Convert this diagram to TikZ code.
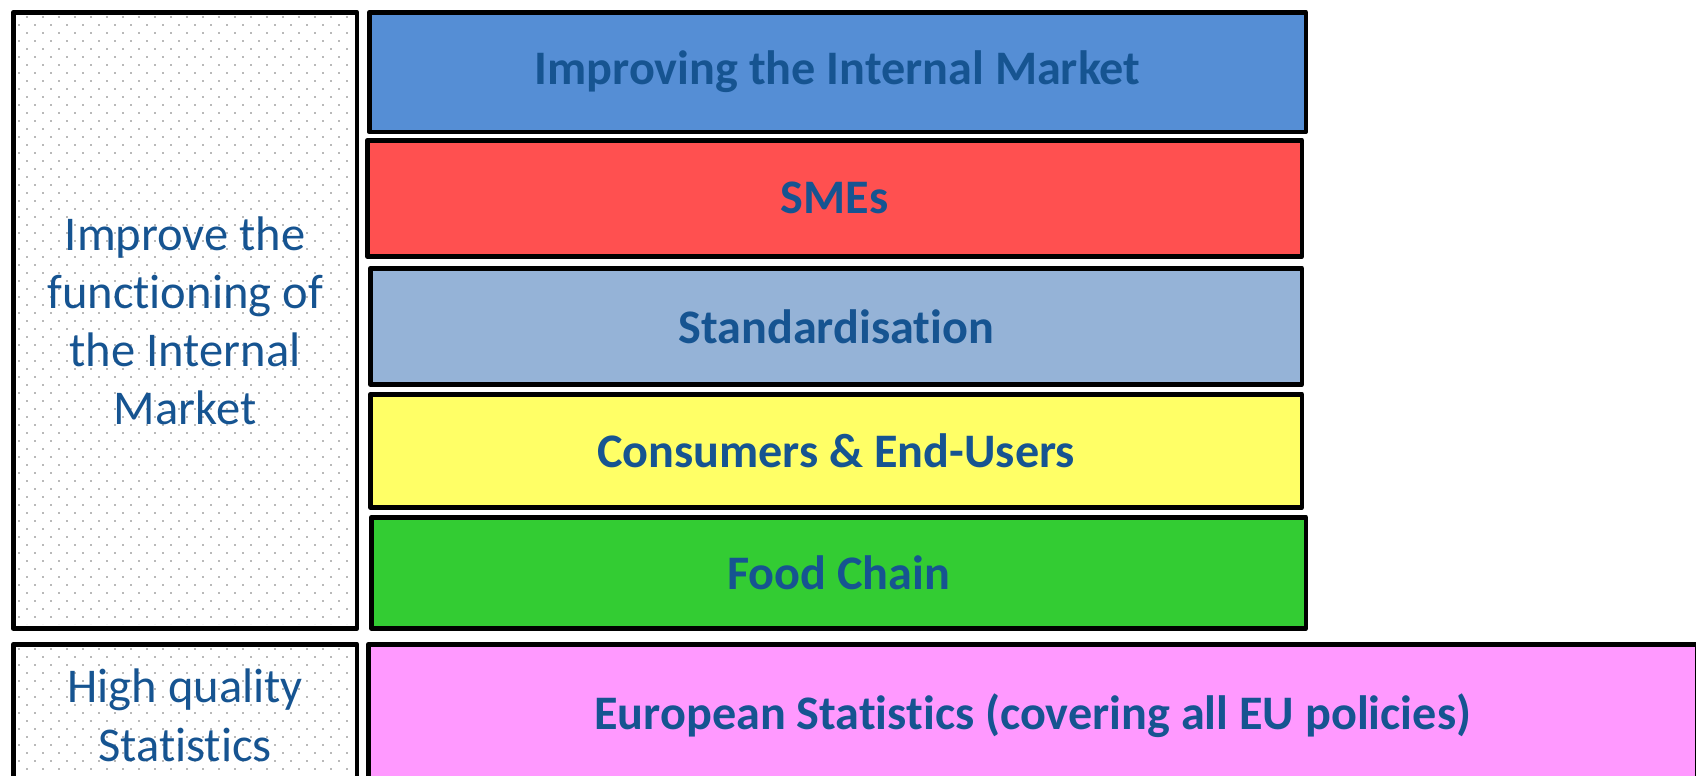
\documentclass[tikz,border=0pt]{standalone}
\usepackage{fontspec}
\setmainfont{Carlito}[Ligatures=NoCommon]
\definecolor{eutext}{RGB}{22,84,145}
\definecolor{barblue}{RGB}{85,142,213}
\definecolor{barred}{RGB}{255,80,80}
\definecolor{barsteel}{RGB}{149,179,215}
\definecolor{baryellow}{RGB}{255,255,102}
\definecolor{bargreen}{RGB}{51,204,51}
\definecolor{barpink}{RGB}{255,153,255}
\definecolor{dotgray}{RGB}{185,185,185}

\begin{document}
\begin{tikzpicture}[x=0.01cm,y=-0.01cm]
\tikzset{bar box/.style={draw,line width=1.3pt,line join=round,fill=#1,anchor=north west,
    inner sep=0pt,text=eutext,font=\fontsize{13.7pt}{17pt}\selectfont\bfseries},
  aim box/.style={draw,line width=1.3pt,line join=round,anchor=north west,inner sep=0pt,
    text=eutext,align=center,font=\fontsize{13.8pt}{16.5pt}\selectfont}}
\useasboundingbox (0,0) rectangle (1696,776);

% dotted background of the left column
\begin{scope}
\clip (13,12) rectangle (352,624) (13,644) rectangle (352,776);
\foreach \m in {0,...,95}{
  \pgfmathtruncatemacro\off{mod(\m+1,2)}
  \foreach \k in {0,...,20}
    \fill[dotgray] ({18+8*\off+16*\k},{16+8*\m}) rectangle +(1.8,1.8);
}
\end{scope}

\node[aim box,minimum width=3.435cm,minimum height=6.16cm] (market) at (11,10)
  {Improve the\\functioning of\\the Internal\\Market};
\node[aim box,minimum width=3.435cm,minimum height=1.42cm] (quality) at (11,642)
  {High quality\\Statistics};

\node[bar box=barblue,minimum width=9.36cm,minimum height=1.195cm] (internal) at (367,10)
  {Improving the Internal Market};
\node[bar box=barred,minimum width=9.34cm,minimum height=1.16cm] (smes) at (365,138)
  {SMEs};
\node[bar box=barsteel,minimum width=9.31cm,minimum height=1.16cm] (standard) at (368,266)
  {Standardisation};
\node[bar box=baryellow,minimum width=9.31cm,minimum height=1.13cm] (consumers) at (368,392)
  {Consumers \& End-Users};
\node[bar box=bargreen,minimum width=9.34cm,minimum height=1.11cm] (food) at (369,515)
  {Food Chain};
\node[bar box=barpink,minimum width=13.28cm,minimum height=1.42cm] (stats) at (366,642)
  {European Statistics (covering all EU policies)};
\end{tikzpicture}
\end{document}
